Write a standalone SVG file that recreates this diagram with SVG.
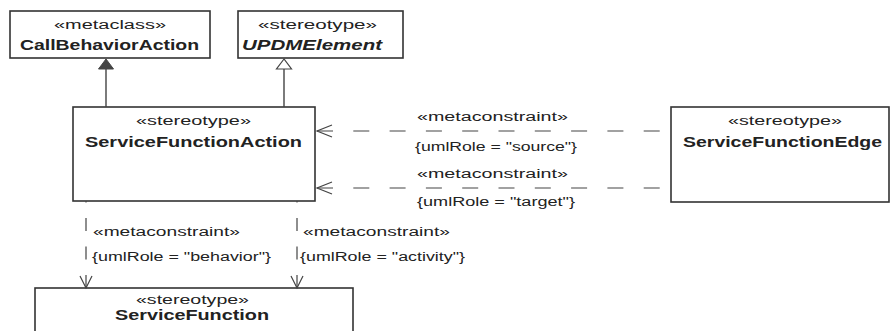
<svg xmlns="http://www.w3.org/2000/svg" width="891" height="331" viewBox="0 0 891 331">
<style>
.box{fill:#fff;stroke:#333;stroke-width:1.6}
.st{font-family:"Liberation Sans",Arial,sans-serif;font-size:12px;fill:#222}
.nm{font-family:"Liberation Sans",Arial,sans-serif;font-size:14px;font-weight:bold;fill:#222}
.lb{font-family:"Liberation Sans",Arial,sans-serif;font-size:12px;fill:#222}
.solid{fill:none;stroke:#444;stroke-width:1.4}
.dash{fill:none;stroke:#444;stroke-width:1.2;stroke-dasharray:16 20.3}
.vdash{fill:none;stroke:#444;stroke-width:1.2;stroke-dasharray:13 15.5}
.open{fill:none;stroke:#444;stroke-width:1.2}
</style>
<rect width="891" height="331" fill="#fff"/>
<g id="CallBehaviorAction">
<rect class="box" x="10" y="11" width="200" height="47"/>
<text class="st" x="54" y="29" textLength="112" lengthAdjust="spacingAndGlyphs">«metaclass»</text>
<text class="nm" x="20" y="50" textLength="179" lengthAdjust="spacingAndGlyphs">CallBehaviorAction</text>
</g>
<g id="UPDMElement">
<rect class="box" x="238" y="11" width="165" height="47"/>
<text class="st" x="258" y="29" textLength="119" lengthAdjust="spacingAndGlyphs">«stereotype»</text>
<text class="nm" x="242" y="50" font-style="italic" textLength="140" lengthAdjust="spacingAndGlyphs">UPDMElement</text>
</g>
<g id="ServiceFunctionAction">
<rect class="box" x="73" y="107" width="242" height="94"/>
<text class="st" x="136" y="125" textLength="115" lengthAdjust="spacingAndGlyphs">«stereotype»</text>
<text class="nm" x="85" y="147" textLength="217" lengthAdjust="spacingAndGlyphs">ServiceFunctionAction</text>
</g>
<g id="ServiceFunctionEdge">
<rect class="box" x="671" y="107" width="218" height="95"/>
<text class="st" x="728" y="125" textLength="114" lengthAdjust="spacingAndGlyphs">«stereotype»</text>
<text class="nm" x="683" y="147" textLength="199" lengthAdjust="spacingAndGlyphs">ServiceFunctionEdge</text>
</g>
<g id="ServiceFunction">
<rect class="box" x="35" y="288" width="318" height="50"/>
<text class="st" x="136" y="304" textLength="113" lengthAdjust="spacingAndGlyphs">«stereotype»</text>
<text class="nm" x="115" y="320" textLength="154" lengthAdjust="spacingAndGlyphs">ServiceFunction</text>
</g>
<g id="connectors">
<line class="solid" x1="106" y1="107" x2="106" y2="69"/>
<polygon points="106,59 98.5,69 113.5,69" fill="#444" stroke="#444" stroke-width="1"/>
<line class="solid" x1="284" y1="107" x2="284" y2="69"/>
<polygon points="284,59 276.5,69 291.5,69" fill="#fff" stroke="#444" stroke-width="1.2"/>
<path class="dash" d="M317,131 H660"/>
<path class="open" d="M332,125 L317,131 L332,137"/>
<path class="dash" d="M317,188 H660"/>
<path class="open" d="M332,182 L317,188 L332,194"/>
<path class="vdash" d="M86,288 V201"/>
<path class="open" d="M80,276 L86,288 L92,276"/>
<path class="vdash" d="M297,288 V201"/>
<path class="open" d="M291,276 L297,288 L303,276"/>
<text class="lb" x="417" y="121" textLength="151" lengthAdjust="spacingAndGlyphs">«metaconstraint»</text>
<text class="lb" x="415" y="151" textLength="162" lengthAdjust="spacingAndGlyphs">{umlRole = "source"}</text>
<text class="lb" x="417" y="178" textLength="151" lengthAdjust="spacingAndGlyphs">«metaconstraint»</text>
<text class="lb" x="417" y="206" textLength="158" lengthAdjust="spacingAndGlyphs">{umlRole = "target"}</text>
<text class="lb" x="93" y="236" textLength="147" lengthAdjust="spacingAndGlyphs">«metaconstraint»</text>
<text class="lb" x="92" y="261" textLength="179" lengthAdjust="spacingAndGlyphs">{umlRole = "behavior"}</text>
<text class="lb" x="303" y="236" textLength="147" lengthAdjust="spacingAndGlyphs">«metaconstraint»</text>
<text class="lb" x="300" y="261" textLength="165" lengthAdjust="spacingAndGlyphs">{umlRole = "activity"}</text>
</g>
</svg>
